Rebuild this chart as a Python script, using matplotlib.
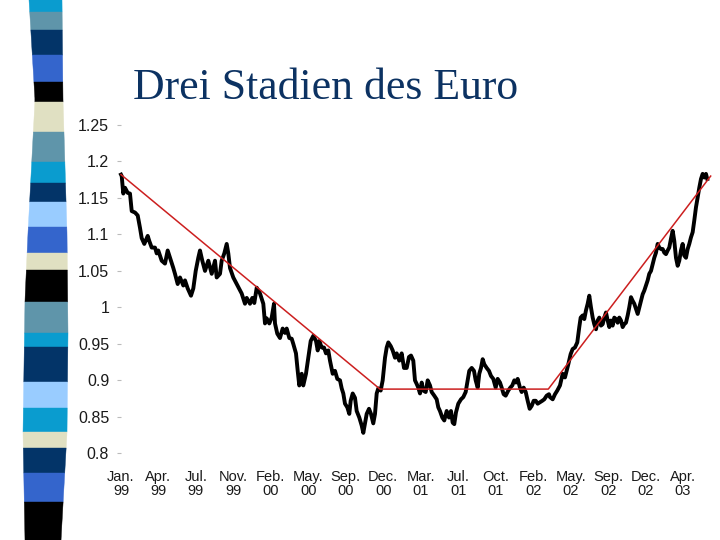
import numpy as np
import matplotlib
matplotlib.use("Agg")
import matplotlib.pyplot as plt
from matplotlib.patches import Polygon

# ---------------- data ----------------
tick_labels = ["Jan.\n99", "Apr.\n99", "Jul.\n99", "Nov.\n99", "Feb.\n00", "May.\n00",
               "Sep.\n00", "Dec.\n00", "Mar.\n01", "Jul.\n01", "Oct.\n01", "Feb.\n02",
               "May.\n02", "Sep.\n02", "Dec.\n02", "Apr.\n03"]
y_ticks = [0.8, 0.85, 0.9, 0.95, 1.0, 1.05, 1.1, 1.15, 1.2, 1.25]
y_tick_labels = ["0.8", "0.85", "0.9", "0.95", "1", "1.05", "1.1", "1.15", "1.2", "1.25"]

# time position in units of tick intervals (category axis)
t_pos = [0.000, 0.019, 0.061, 0.107, 0.179, 0.240, 0.286, 0.374, 0.446, 0.507, 0.552, 0.622,
         0.713, 0.755, 0.819, 0.907, 0.953, 0.995, 1.086, 1.174, 1.246, 1.308, 1.396, 1.441,
         1.513, 1.575, 1.663, 1.708, 1.780, 1.868, 1.930, 1.994, 2.063, 2.108, 2.170, 2.242,
         2.330, 2.421, 2.509, 2.554, 2.642, 2.687, 2.757, 2.821, 2.864, 2.909, 2.997, 3.088,
         3.221, 3.309, 3.355, 3.443, 3.504, 3.558, 3.622, 3.710, 3.798, 3.843, 3.888, 3.958,
         4.022, 4.083, 4.110, 4.171, 4.243, 4.315, 4.377, 4.422, 4.492, 4.556, 4.598, 4.670,
         4.716, 4.758, 4.823, 4.865, 4.937, 4.999, 5.063, 5.132, 5.204, 5.250, 5.292, 5.356,
         5.418, 5.471, 5.532, 5.578, 5.650, 5.711, 5.773, 5.845, 5.890, 5.933, 5.978, 6.040,
         6.093, 6.130, 6.184, 6.245, 6.290, 6.360, 6.424, 6.467, 6.512, 6.557, 6.619, 6.672,
         6.733, 6.779, 6.824, 6.867, 6.931, 6.984, 7.046, 7.091, 7.134, 7.198, 7.251, 7.313,
         7.358, 7.427, 7.491, 7.553, 7.625, 7.686, 7.740, 7.801, 7.846, 7.892, 7.934, 7.980,
         8.025, 8.068, 8.132, 8.185, 8.247, 8.292, 8.361, 8.425, 8.468, 8.513, 8.575, 8.628,
         8.692, 8.754, 8.807, 8.852, 8.895, 8.940, 9.002, 9.074, 9.135, 9.199, 9.253, 9.295,
         9.360, 9.421, 9.466, 9.520, 9.562, 9.608, 9.653, 9.696, 9.760, 9.821, 9.875, 9.936,
         10.000, 10.053, 10.115, 10.160, 10.213, 10.267, 10.336, 10.390, 10.443, 10.497, 10.542,
         10.587, 10.648, 10.694, 10.747, 10.801, 10.854, 10.907, 10.961, 11.014, 11.068, 11.121,
         11.182, 11.244, 11.297, 11.361, 11.422, 11.449, 11.521, 11.583, 11.644, 11.716, 11.788,
         11.849, 11.895, 11.938, 12.001, 12.055, 12.116, 12.178, 12.231, 12.268, 12.322, 12.365,
         12.410, 12.455, 12.498, 12.543, 12.589, 12.631, 12.677, 12.722, 12.765, 12.810, 12.856,
         12.898, 12.944, 12.989, 13.032, 13.077, 13.122, 13.165, 13.211, 13.256, 13.299, 13.344,
         13.389, 13.432, 13.477, 13.523, 13.565, 13.611, 13.656, 13.699, 13.744, 13.790, 13.833,
         13.878, 13.923, 13.966, 14.011, 14.056, 14.099, 14.145, 14.190, 14.233, 14.278, 14.323,
         14.366, 14.412, 14.457, 14.500, 14.545, 14.590, 14.633, 14.678, 14.724, 14.767, 14.812,
         14.857, 14.900, 14.945, 14.990, 15.033, 15.079, 15.124, 15.167, 15.212, 15.257, 15.300,
         15.345, 15.391, 15.434, 15.479, 15.524, 15.567, 15.612, 15.647]

eur_usd = [1.182, 1.180, 1.156, 1.164, 1.157, 1.156, 1.132, 1.130, 1.126, 1.109, 1.095, 1.087,
           1.098, 1.091, 1.082, 1.082, 1.074, 1.078, 1.064, 1.060, 1.078, 1.068, 1.054, 1.046,
           1.032, 1.041, 1.030, 1.037, 1.026, 1.016, 1.026, 1.050, 1.068, 1.078, 1.064, 1.050,
           1.064, 1.046, 1.064, 1.041, 1.046, 1.064, 1.074, 1.087, 1.074, 1.054, 1.041, 1.032,
           1.019, 1.005, 1.013, 1.005, 1.013, 1.006, 1.027, 1.019, 1.005, 0.978, 0.985, 0.978,
           0.986, 1.005, 0.978, 0.964, 0.958, 0.971, 0.965, 0.971, 0.958, 0.957, 0.950, 0.937,
           0.913, 0.893, 0.909, 0.893, 0.909, 0.931, 0.954, 0.961, 0.954, 0.941, 0.954, 0.945,
           0.945, 0.937, 0.941, 0.927, 0.909, 0.913, 0.902, 0.900, 0.889, 0.882, 0.868, 0.863,
           0.854, 0.872, 0.882, 0.876, 0.858, 0.849, 0.838, 0.828, 0.841, 0.854, 0.861, 0.854,
           0.841, 0.854, 0.882, 0.889, 0.886, 0.900, 0.931, 0.945, 0.952, 0.947, 0.941, 0.931,
           0.937, 0.927, 0.937, 0.917, 0.917, 0.932, 0.934, 0.927, 0.900, 0.895, 0.890, 0.882,
           0.897, 0.886, 0.884, 0.900, 0.893, 0.884, 0.879, 0.874, 0.863, 0.858, 0.849, 0.845,
           0.858, 0.849, 0.858, 0.842, 0.840, 0.856, 0.868, 0.874, 0.877, 0.884, 0.900, 0.913,
           0.917, 0.913, 0.900, 0.890, 0.909, 0.917, 0.929, 0.922, 0.917, 0.913, 0.906, 0.902,
           0.890, 0.902, 0.897, 0.890, 0.881, 0.879, 0.886, 0.890, 0.893, 0.900, 0.897,
           0.902, 0.890, 0.884, 0.890, 0.884, 0.872, 0.861, 0.865, 0.872, 0.872, 0.868,
           0.870, 0.872, 0.874, 0.879, 0.881, 0.877, 0.874, 0.881, 0.886, 0.893, 0.909,
           0.904, 0.913, 0.922, 0.936, 0.943, 0.945, 0.952, 0.973, 0.986, 0.989, 0.984,
           0.996, 1.005, 1.016, 1.000, 0.986, 0.977, 0.970, 0.982, 0.986, 0.975, 0.977,
           0.986, 0.993, 0.982, 0.973, 0.982, 0.975, 0.986, 0.984, 0.979, 0.986, 0.982,
           0.973, 0.977, 0.979, 0.989, 1.000, 1.014, 1.009, 1.005, 0.998, 0.991, 1.000,
           1.009, 1.018, 1.023, 1.030, 1.037, 1.046, 1.050, 1.059, 1.068, 1.075, 1.087,
           1.082, 1.080, 1.080, 1.075, 1.073, 1.078, 1.082, 1.094, 1.105, 1.091, 1.068,
           1.057, 1.064, 1.078, 1.087, 1.071, 1.068, 1.080, 1.087, 1.096, 1.103, 1.119,
           1.137, 1.151, 1.164, 1.176, 1.183, 1.178, 1.183, 1.176]

trend_t = [0.0, 6.912, 11.404, 15.738]
trend_v = [1.182, 0.888, 0.888, 1.180]

# ---------------- figure ----------------
W, H = 720, 540
fig = plt.figure(figsize=(7.2, 5.4), dpi=100)
fig.patch.set_facecolor("white")

# decorative stripe on the left (slide template)
cyan, steel, navy, royal, blk, beige, light = ("#0a9ccf", "#5f95aa", "#033468", "#3465cc",
                                             "#000000", "#e0e0c2", "#99ccff")
bands = [(0, 12, cyan), (12, 30, steel), (30, 55, navy), (55, 82, royal), (82, 102, blk),
         (102, 132, beige), (132, 162, steel), (162, 183, cyan), (183, 202, navy),
         (202, 227, light), (227, 253, royal), (253, 270, beige), (270, 302, blk),
         (302, 333, steel), (333, 347, cyan), (347, 382, navy), (382, 408, light),
         (408, 432, cyan), (432, 448, beige), (448, 473, navy), (473, 502, royal),
         (502, 541, blk)]
ly, lx = [0, 100, 233, 300, 433, 540], [29, 35, 28, 25, 23, 25]
ry, rx = [0, 100, 233, 333, 433, 540], [62, 63, 67, 68, 67, 61]
for y0, y1, c in bands:
    ys = np.linspace(y0, y1, 6)
    left = np.interp(ys, ly, lx)
    right = np.interp(ys, ry, rx)
    pts = [(x / W, 1 - y / H) for x, y in zip(left, ys)] + \
          [(x / W, 1 - y / H) for x, y in zip(right[::-1], ys[::-1])]
    fig.add_artist(Polygon(pts, closed=True, transform=fig.transFigure,
                           facecolor=c, edgecolor=c, lw=0.3))

# title
fig.text(133 / W, 1 - 99 / H, "Drei Stadien des Euro", family="Liberation Serif",
         fontsize=31.5, color="#0c3262", ha="left", va="baseline")

# axes
ax_left, ax_right = 121, 713
ax_top, ax_bot = 125, 453.3
ax = fig.add_axes([ax_left / W, 1 - ax_bot / H, (ax_right - ax_left) / W, (ax_bot - ax_top) / H])
ax.set_facecolor("none")
ax.set_xlim(0, 15.8)
ax.set_ylim(0.8, 1.25)
for s in ax.spines.values():
    s.set_visible(False)

ax.plot(t_pos, eur_usd, color="black", lw=2.8, solid_joinstyle="round", clip_on=False, zorder=2)
ax.plot(trend_t, trend_v, color="#cc1f1f", lw=1.1, clip_on=False, zorder=3)

ax.set_yticks(y_ticks)
ax.set_yticklabels(y_tick_labels, family="Liberation Sans", fontsize=11.5, color="#1a1a1a")
ax.tick_params(axis="y", length=3, width=0.8, color="#bbbbbb", pad=5.5)

ax.set_xticks(range(len(tick_labels)))
ax.set_xticklabels(tick_labels, family="Liberation Sans", fontsize=10.5, color="#1a1a1a",
                   linespacing=1.0)
ax.tick_params(axis="x", length=0, pad=12)

fig.savefig("out.png", dpi=100, facecolor="white")
